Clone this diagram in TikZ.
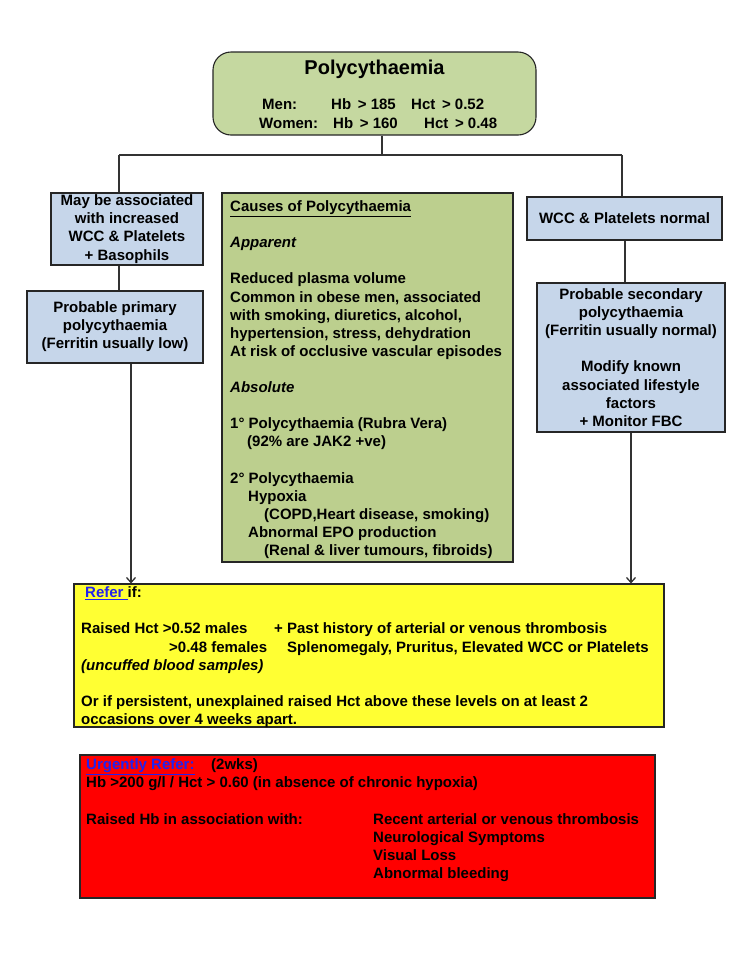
\documentclass[tikz,border=0pt]{standalone}
\usepackage{fontspec}
\setmainfont{Liberation Sans}
\usetikzlibrary{arrows.meta}
\definecolor{topgreen}{HTML}{C5D8A0}
\definecolor{midgreen}{HTML}{BCCF8E}
\definecolor{boxblue}{HTML}{C6D6EA}
\definecolor{refyellow}{HTML}{FFFF33}
\definecolor{refred}{HTML}{FF0000}
\definecolor{linkblue}{HTML}{2222EE}
\newcommand{\reflink}[1]{{\color{linkblue}\underline{#1}}}
\begin{document}
\begin{tikzpicture}[x=1pt,y=-1pt,
  body/.style={font=\fontsize{15}{18.1}\selectfont\bfseries, inner sep=0pt},
  boxbase/.style={draw=black!85, line width=1.1pt, inner sep=0pt},
  bluebox/.style={boxbase, fill=boxblue, body, align=center},
  txt/.style={body, anchor=north west, align=left},
  conn/.style={draw=black!80, line width=1.3pt},
  arr/.style={conn, -{Straight Barb[length=5pt,width=9pt]}}]
\fill[white] (0,0) rectangle (750,962);
\useasboundingbox (0,0) rectangle (750,962);

% top box
\node[boxbase, fill=topgreen, rounded corners=18pt, minimum width=323pt, minimum height=83pt] (top) at (374.5,93.5) {};
\node[font=\fontsize{20}{24}\selectfont\bfseries, inner sep=0pt, anchor=base] (title) at (374.5,74.2) {Polycythaemia};
\node[body, anchor=base west] (men) at (262,109.4) {Men:};
\node[body, anchor=base west] (menhb) at (331,109.4) {Hb \,> 185};
\node[body, anchor=base west] (menhct) at (411,109.4) {Hct \,> 0.52};
\node[body, anchor=base west] (women) at (259,128.4) {Women:};
\node[body, anchor=base west] (womenhb) at (333,128.4) {Hb \,> 160};
\node[body, anchor=base west] (womenhct) at (424,128.4) {Hct \,> 0.48};

% left column
\node[bluebox, minimum width=152pt, minimum height=72pt] (l1) at (127,229) {May be associated\\with increased\\WCC \& Platelets\\+ Basophils};
\node[bluebox, minimum width=176pt, minimum height=72pt] (l2) at (115,327) {Probable primary\\polycythaemia\\(Ferritin usually low)};

% right column
\node[bluebox, minimum width=195pt, minimum height=43pt] (r1) at (624.5,218.5) {WCC \& Platelets normal};
\node[bluebox, minimum width=188pt, minimum height=149pt] (r2) at (631,357.5) {Probable secondary\\polycythaemia\\(Ferritin usually normal)\\[18.1pt]Modify known\\associated lifestyle\\factors\\+ Monitor FBC};

% centre box
\node[boxbase, fill=midgreen, minimum width=291pt, minimum height=369pt] (mid) at (367.5,377.5) {};
\node[txt] (midtext) at (230,198.7) {\strut\underline{Causes of Polycythaemia}\\
\\
\textit{Apparent}\\
\\
Reduced plasma volume\\
Common in obese men, associated\\
with smoking, diuretics, alcohol,\\
hypertension, stress, dehydration\\
At risk of occlusive vascular episodes\\
\\
\textit{Absolute}\\
\\
1° Polycythaemia (Rubra Vera)\\
\hspace*{17pt}(92\% are JAK2 +ve)\\
\\
2° Polycythaemia\\
\hspace*{18pt}Hypoxia\\
\hspace*{34pt}(COPD,Heart disease, smoking)\\
\hspace*{18pt}Abnormal EPO production\\
\hspace*{34pt}(Renal \& liver tumours, fibroids)};

% yellow box
\node[boxbase, fill=refyellow, minimum width=590pt, minimum height=143pt] (yel) at (369,655.5) {};
\node[txt] (yeltext) at (81,584.9) {\strut\hspace*{4pt}\reflink{Refer\ }if:\\
\\
\makebox[193pt][l]{Raised Hct >0.52 males}+ Past history of arterial or venous thrombosis\\
\hspace*{88pt}\makebox[118pt][l]{>0.48 females}Splenomegaly, Pruritus, Elevated WCC or Platelets\\
\textit{(uncuffed blood samples)}\\
\\
Or if persistent, unexplained raised Hct above these levels on at least 2\\
occasions over 4 weeks apart.};

% red box
\node[boxbase, fill=refred, minimum width=575pt, minimum height=143pt] (red) at (367.5,826.5) {};
\node[txt] (redtext) at (86,756.9) {\strut\makebox[125pt][l]{\reflink{Urgently Refer:}}(2wks)\\
Hb >200 g/l / Hct > 0.60 (in absence of chronic hypoxia)\\
\\
\makebox[287pt][l]{Raised Hb in association with:}Recent arterial or venous thrombosis\\
\hspace*{287pt}Neurological Symptoms\\
\hspace*{287pt}Visual Loss\\
\hspace*{287pt}Abnormal bleeding};

% connectors
\coordinate (jc) at (382,155);
\coordinate (jl) at (119,155);
\coordinate (jr) at (622,155);
\coordinate (xr) at (625,0);
\coordinate (xla) at (131,0);
\coordinate (xra) at (631,0);
\draw[conn] (top.south -| jc) -- (jc);
\draw[conn] (jl) -- (jr);
\draw[conn] (jl) -- (l1.north -| jl);
\draw[conn] (jr) -- (r1.north -| jr);
\draw[conn] (l1.south -| jl) -- (l2.north -| jl);
\draw[conn] (r1.south -| xr) -- (r2.north -| xr);
\draw[arr] (l2.south -| xla) -- (yel.north -| xla);
\draw[arr] (r2.south -| xra) -- (yel.north -| xra);
\end{tikzpicture}
\end{document}
